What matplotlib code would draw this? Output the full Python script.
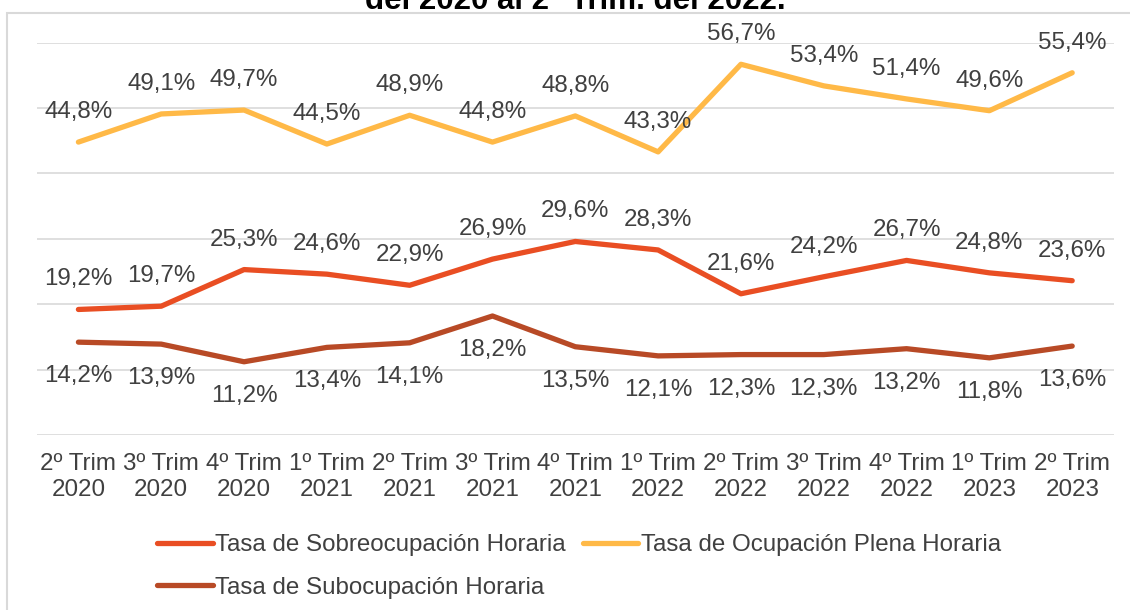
import numpy as np
import matplotlib.pyplot as plt
from matplotlib.patches import Rectangle

plt.rcParams['font.family'] = ['Liberation Sans', 'DejaVu Sans']

# %%
# data
quarters = ['2º Trim\n2020', '3º Trim\n2020', '4º Trim\n2020', '1º Trim\n2021',
            '2º Trim\n2021', '3º Trim\n2021', '4º Trim\n2021', '1º Trim\n2022',
            '2º Trim\n2022', '3º Trim\n2022', '4º Trim\n2022', '1º Trim\n2023',
            '2º Trim\n2023']
sobre = [19.2, 19.7, 25.3, 24.6, 22.9, 26.9, 29.6, 28.3, 21.6, 24.2, 26.7, 24.8, 23.6]
plena = [44.8, 49.1, 49.7, 44.5, 48.9, 44.8, 48.8, 43.3, 56.7, 53.4, 51.4, 49.6, 55.4]
sub = [14.2, 13.9, 11.2, 13.4, 14.1, 18.2, 13.5, 12.1, 12.3, 12.3, 13.2, 11.8, 13.6]

names = ['Tasa de Sobreocupación Horaria', 'Tasa de Ocupación Plena Horaria',
         'Tasa de Subocupación Horaria']
colors = ['#E94E23', '#FFB947', '#B84A26']
txt_col = '#404040'
fs = 17.4

# %%
fig = plt.figure(figsize=(11.3, 6.1), dpi=100)
ax = fig.add_axes([37 / 1130, 1 - 435 / 610, 1076.6 / 1130, 392.3 / 610])

# chart area border (light grey, cut at right/bottom)
fig.patches.append(Rectangle((7 / 1130, -0.1), 1.2, 1 - 13 / 610 + 0.1,
                             transform=fig.transFigure, fill=False,
                             edgecolor='#d9d9d9', lw=1.5))

x = np.arange(len(quarters))
series = [sobre, plena, sub]
offsets = [30, 30, -34]   # label above / below the point, in pixels
lines = []
for vals, c, off, n in zip(series, colors, offsets, names):
    ln, = ax.plot(x, vals, color=c, lw=3.8, solid_capstyle='round',
                  solid_joinstyle='round', label=n, zorder=3)
    lines.append(ln)
    for xi, v in zip(x, vals):
        ax.annotate(f'{v:.1f}%'.replace('.', ','), (xi, v), xytext=(0, off),
                    textcoords='offset pixels', ha='center', va='center',
                    fontsize=fs, color=txt_col, zorder=4)

ax.set_xlim(-0.5, len(quarters) - 0.5)
ax.set_ylim(0, 60)
ax.set_yticks(np.arange(0, 61, 10))
ax.yaxis.grid(True, color='#d9d9d9', lw=1.2)
ax.set_axisbelow(True)
ax.tick_params(axis='y', left=False, labelleft=False)
ax.set_xticks(x)
ax.set_xticklabels(quarters, fontsize=fs, color=txt_col, linespacing=1.22)
ax.tick_params(axis='x', length=0, pad=13)
for s in ax.spines.values():
    s.set_visible(False)

# title, cut off at the top as in the source
fig.text(575 / 1130, 1 - 9 / 610, 'del 2020 al 2° Trim. del 2022.', ha='center',
         va='baseline', fontsize=22.5, fontweight='bold', color='black')

# legend: row 1 -> sobre, plena ; row 2 -> sub
leg = fig.legend([lines[0], lines[2], lines[1]], [names[0], names[2], names[1]],
                 ncol=2, loc='upper left', bbox_to_anchor=(157 / 1130, 1 - 534 / 610),
                 bbox_transform=fig.transFigure, frameon=False, fontsize=fs,
                 handlelength=2.3, handletextpad=0.1, columnspacing=0.7,
                 labelspacing=0.85, borderpad=0, borderaxespad=0)
for t in leg.get_texts():
    t.set_color(txt_col)

fig.savefig('out.png', dpi=100)
